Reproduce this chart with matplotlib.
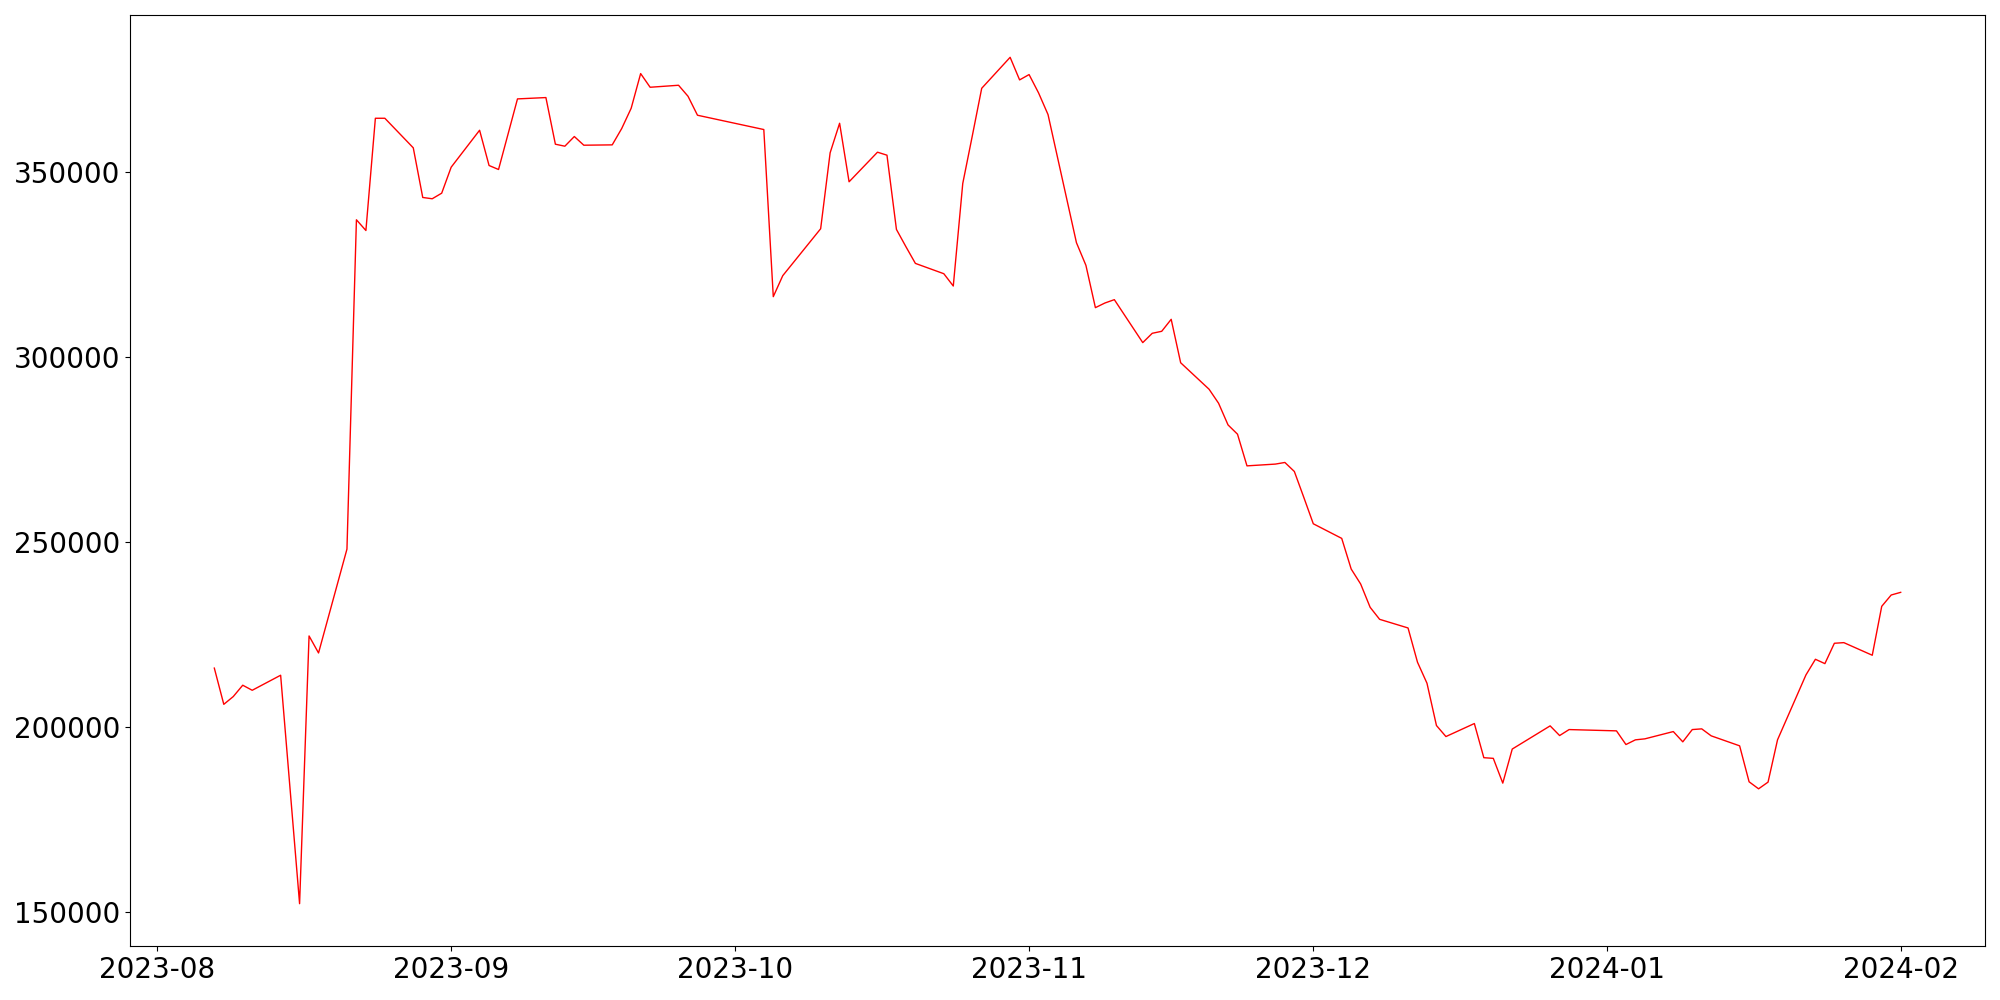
import matplotlib
matplotlib.use("Agg")
import matplotlib.pyplot as plt
import matplotlib.dates as mdates
import pandas as pd

dates = [
    "2023-08-07", "2023-08-08", "2023-08-09", "2023-08-10", "2023-08-11",
    "2023-08-14", "2023-08-16", "2023-08-17", "2023-08-18",
    "2023-08-21", "2023-08-22", "2023-08-23", "2023-08-24", "2023-08-25",
    "2023-08-28", "2023-08-29", "2023-08-30", "2023-08-31", "2023-09-01",
    "2023-09-04", "2023-09-05", "2023-09-06", "2023-09-07", "2023-09-08",
    "2023-09-11", "2023-09-12", "2023-09-13", "2023-09-14", "2023-09-15",
    "2023-09-18", "2023-09-19", "2023-09-20", "2023-09-21", "2023-09-22",
    "2023-09-25", "2023-09-26", "2023-09-27",
    "2023-10-04", "2023-10-05", "2023-10-06",
    "2023-10-10", "2023-10-11", "2023-10-12", "2023-10-13",
    "2023-10-16", "2023-10-17", "2023-10-18", "2023-10-19", "2023-10-20",
    "2023-10-23", "2023-10-24", "2023-10-25", "2023-10-26", "2023-10-27",
    "2023-10-30", "2023-10-31", "2023-11-01", "2023-11-02", "2023-11-03",
    "2023-11-06", "2023-11-07", "2023-11-08", "2023-11-09", "2023-11-10",
    "2023-11-13", "2023-11-14", "2023-11-15", "2023-11-16", "2023-11-17",
    "2023-11-20", "2023-11-21", "2023-11-22", "2023-11-23", "2023-11-24",
    "2023-11-27", "2023-11-28", "2023-11-29", "2023-11-30", "2023-12-01",
    "2023-12-04", "2023-12-05", "2023-12-06", "2023-12-07", "2023-12-08",
    "2023-12-11", "2023-12-12", "2023-12-13", "2023-12-14", "2023-12-15",
    "2023-12-18", "2023-12-19", "2023-12-20", "2023-12-21", "2023-12-22",
    "2023-12-26", "2023-12-27", "2023-12-28",
    "2024-01-02", "2024-01-03", "2024-01-04", "2024-01-05",
    "2024-01-08", "2024-01-09", "2024-01-10", "2024-01-11", "2024-01-12",
    "2024-01-15", "2024-01-16", "2024-01-17", "2024-01-18", "2024-01-19",
    "2024-01-22", "2024-01-23", "2024-01-24", "2024-01-25", "2024-01-26",
    "2024-01-29", "2024-01-30", "2024-01-31", "2024-02-01",
]

values = [
    215900, 206100, 208200, 211270, 209900,
    213970, 152160, 224600, 220000,
    248100, 337200, 334300, 364670, 364670,
    356670, 343240, 342890, 344400, 351430,
    361430, 351890, 350810, 360350, 369910,
    370270, 357650, 357110, 359730, 357380,
    357470, 361890, 367380, 376760, 373060,
    373600, 370620, 365490,
    361620, 316400, 322080,
    334780, 355320, 363320, 347480,
    355490, 354680, 334590, 329920, 325400,
    322610, 319280, 347030, 359810, 372780,
    381160, 375050, 376490, 371540, 365670,
    331000, 324870, 313430, 314680, 315590,
    303970, 306490, 307030, 310270, 298520,
    291350, 287570, 281700, 279190, 270620,
    271100, 271540, 269100, 262080, 254950,
    251000, 242700, 238650, 232350, 229100,
    226760, 217480, 211800, 200360, 197380,
    200900, 191660, 191480, 184780, 194000,
    200270, 197650, 199270,
    198920, 195220, 196490, 196760,
    198730, 195950, 199270, 199460, 197570,
    194870, 185140, 183240, 185050, 196490,
    214050, 218290, 217110, 222620, 222790,
    219380, 232620, 235680, 236400,
]

x = pd.to_datetime(dates)

fig = plt.figure(figsize=(20, 10), dpi=100)
ax = fig.add_axes([0.065, 0.054, 0.9275, 0.931])
ax.plot(x, values, color="red", linewidth=1.0)

ax.xaxis.set_major_locator(mdates.MonthLocator())
ax.xaxis.set_major_formatter(mdates.DateFormatter("%Y-%m"))
ax.tick_params(axis="both", labelsize=20)

fig.savefig("out.png", dpi=100)
